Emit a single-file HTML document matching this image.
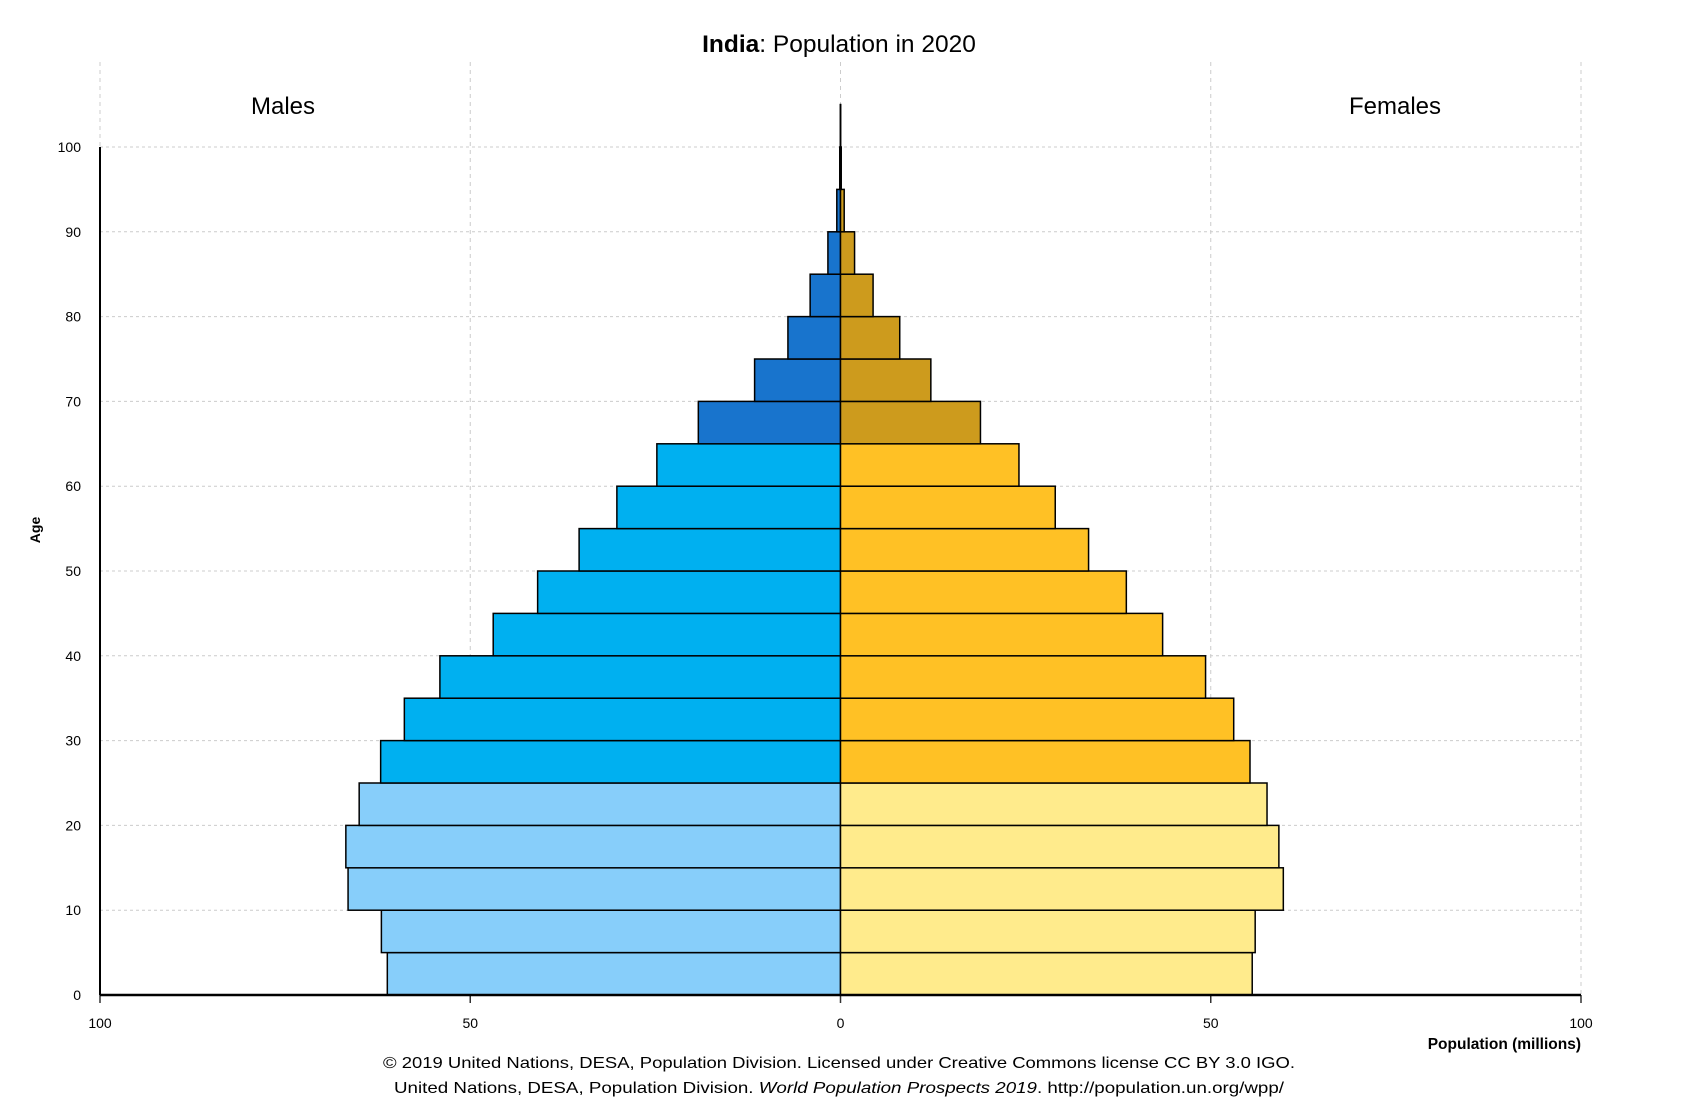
<!DOCTYPE html>
<html><head><meta charset="utf-8"><style>
html,body{margin:0;padding:0;background:#fff;}
svg{display:block;font-family:"Liberation Sans",Arial,sans-serif;}
</style></head><body>
<svg id="chart" width="1684" height="1110" viewBox="0 0 1684 1110">
<text x="839" y="52" text-anchor="middle" font-size="24.5" fill="#000"><tspan font-weight="bold">India</tspan>: Population in 2020</text>
<text x="283" y="114" text-anchor="middle" font-size="24">Males</text>
<text x="1395" y="114" text-anchor="middle" font-size="24">Females</text>
<g id="grid"></g>
<g id="bars"></g>
<g id="axes"></g>
<text transform="translate(40,530) rotate(-90)" text-anchor="middle" font-size="14" font-weight="bold">Age</text>
<text x="1581" y="1049" text-anchor="end" font-size="15.5" font-weight="bold">Population (millions)</text>
<text x="839" y="1068" text-anchor="middle" font-size="16" textLength="912" lengthAdjust="spacingAndGlyphs">© 2019 United Nations, DESA, Population Division. Licensed under Creative Commons license CC BY 3.0 IGO.</text>
<text x="839" y="1093" text-anchor="middle" font-size="16" textLength="890" lengthAdjust="spacingAndGlyphs">United Nations, DESA, Population Division. <tspan font-style="italic">World Population Prospects 2019</tspan>. http://population.un.org/wpp/</text>
</svg>
<script>
const ageStarts = [0,5,10,15,20,25,30,35,40,45,50,55,60,65,70,75,80,85,90,95,100];
const males = [61.2,62.0,66.5,66.8,65.0,62.1,58.9,54.1,46.9,40.9,35.3,30.2,24.8,19.2,11.6,7.1,4.1,1.7,0.5,0.1,0.02];
const females = [55.6,56.0,59.8,59.2,57.6,55.3,53.1,49.3,43.5,38.6,33.5,29.0,24.1,18.9,12.2,8.0,4.4,1.9,0.5,0.1,0.02];
const xTicks = [-100,-50,0,50,100];
const xTickLabels = ["100","50","0","50","100"];
const yTicks = [0,10,20,30,40,50,60,70,80,90,100];

const NS="http://www.w3.org/2000/svg";
const X0=840.5, PX=7.405, Y0=995, PY=8.48;
function xs(v){return X0+v*PX;}
function ys(a){return Y0-a*PY;}
function mk(tag,attrs,parent){const e=document.createElementNS(NS,tag);for(const k in attrs)e.setAttribute(k,attrs[k]);parent.appendChild(e);return e;}
const grid=document.getElementById('grid'),bars=document.getElementById('bars'),axes=document.getElementById('axes');
function mColor(a){return a<25?'#87cefa':a<65?'#00b0f0':'#1874cd';}
function fColor(a){return a<25?'#ffeb8c':a<65?'#ffc125':'#cd9b1d';}

xTicks.forEach((t,i)=>{
  const l=mk('line',{x1:xs(t),x2:xs(t),y1:62,y2:Y0,stroke:'#ccc','stroke-dasharray':'4,4','stroke-width':1},grid);
  
  
  const tk=mk('line',{x1:xs(t),x2:xs(t),y1:Y0,y2:Y0+8,stroke:'#333','stroke-width':1.5},axes);
  
  
  const tx=mk('text',{x:xs(t),y:Y0+33,'text-anchor':'middle','font-size':14},axes);
  tx.textContent=xTickLabels[i];
  
  
});
yTicks.forEach(t=>{
  const l=mk('line',{x1:xs(-100),x2:xs(100),y1:ys(t),y2:ys(t),stroke:'#ccc','stroke-dasharray':'3,3','stroke-width':1},grid);
  
  
  const tx=mk('text',{x:xs(-100)-19,y:ys(t)+5,'text-anchor':'end','font-size':14},axes);
  tx.textContent=t;
  
  
});
ageStarts.forEach((a,i)=>{
  const top=ys(a+5),h=5*PY;
  const m=mk('rect',{x:xs(-males[i]),y:top,width:males[i]*PX,height:h,fill:mColor(a),stroke:'#000','stroke-width':1.5},bars);
  
  
  const f=mk('rect',{x:xs(0),y:top,width:females[i]*PX,height:h,fill:fColor(a),stroke:'#000','stroke-width':1.5},bars);
  
  
});
const ya=mk('line',{x1:xs(-100),x2:xs(-100),y1:ys(100),y2:Y0,stroke:'#000','stroke-width':2},axes);


const xa=mk('line',{x1:xs(-100),x2:xs(100),y1:Y0,y2:Y0,stroke:'#000','stroke-width':2.5},axes);


</script>
</body></html>
